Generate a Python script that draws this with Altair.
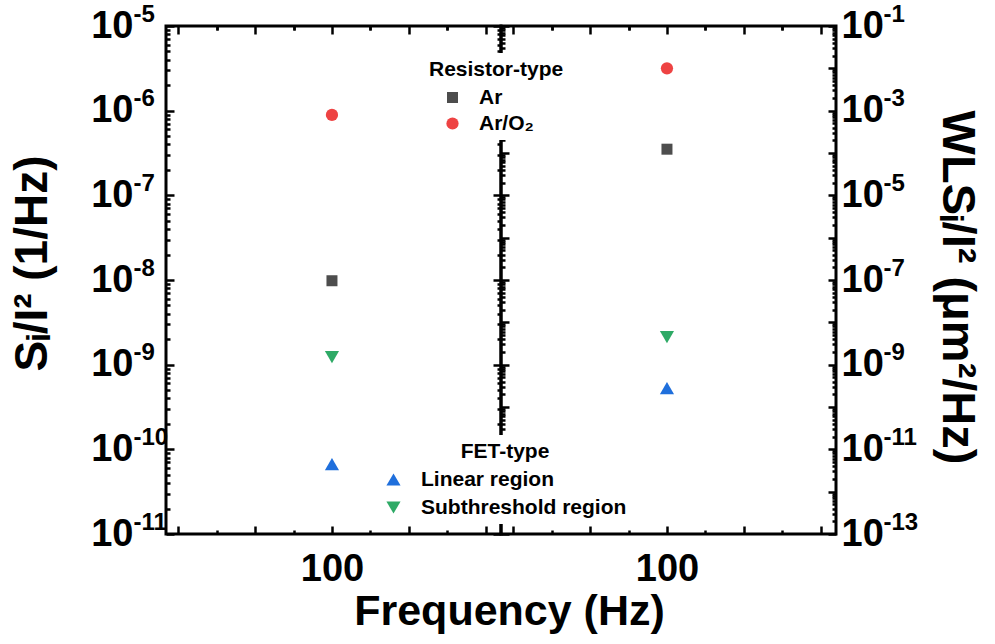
import math
import altair as alt
import pandas as pd

# ---------------- data ----------------
freq = [100, 100]
res_series = ["Ar", "Ar/O₂"]
fet_series = ["Linear region", "Subthreshold region"]
left_res = [9.8e-9, 8.9e-7]          # S_I/I^2 (1/Hz)
left_fet = [6.7e-11, 1.23e-9]
right_res = [1.23e-4, 1.0e-2]        # WL S_I/I^2 (um^2/Hz)
right_fet = [2.8e-10, 4.5e-9]

left_decades = [1e-5, 1e-6, 1e-7, 1e-8, 1e-9, 1e-10, 1e-11]
left_exponents = ["-5", "-6", "-7", "-8", "-9", "-10", "-11"]
right_decades = [1e-1, 1e-3, 1e-5, 1e-7, 1e-9, 1e-11, 1e-13]
right_exponents = ["-1", "-3", "-5", "-7", "-9", "-11", "-13"]
x_major_ticks = [80, 90, 100, 110, 120]
x_minor_ticks = [85, 95, 105, 115]
x_label = "100"

res_colors = ["#4d4d4d", "#ee4343"]
res_shapes = ["square", "circle"]
res_sizes = [121, 150]
fet_colors = ["#1f6fdc", "#2eaa66"]
fet_shapes = ["triangle-up", "triangle-down"]
fet_sizes = [200, 200]

res_df = pd.DataFrame({"Frequency": freq, "series": res_series, "left": left_res, "right": right_res})
fet_df = pd.DataFrame({"Frequency": freq, "series": fet_series, "left": left_fet, "right": right_fet})

W, H = 335, 508
FONT = "Liberation Sans"
BASE_SIZE = 38
EXP_SIZE = 24
BASE_ADV = 42  # advance width of "10" at BASE_SIZE


def decade_ticks(lo, hi):
    return [10.0 ** e for e in range(lo, hi + 1)]


def minor_log_ticks(lo, hi):
    return [m * 10.0 ** e for e in range(lo, hi) for m in range(2, 10)]


def exp_expr(values, labels):
    expr = "''"
    for v, l in zip(values, labels):
        e = round(math.log10(v))
        expr = f"abs(log(datum.value)/LN10 - ({e})) < 0.01 ? '{l}' : " + expr
    return expr


xscale = alt.Scale(domain=[78.4, 122.0], nice=False, zero=False)
yscale_left = alt.Scale(type="log", domain=[1e-11, 1e-5], nice=False)
yscale_right = alt.Scale(type="log", domain=[1e-13, 1e-1], nice=False)

txt = dict(labelFont=FONT, labelFontWeight="bold", labelColor="black", labelOverlap=False,
           labelBound=False, ticks=False, domain=False, grid=False)
ttl = dict(titleFont=FONT, titleFontWeight="bold", titleColor="black")


def tick_axis(orient, values, size):
    return alt.Axis(orient=orient, values=values, tickSize={"expr": str(-size)},
                    labels=False, domain=False, grid=False, title=None,
                    tickColor="black", tickWidth=2.5)


def x_label_axis(with_title):
    kw = dict(orient="bottom", values=[100], labelExpr=f"'{x_label}'", labelFontSize=BASE_SIZE,
              labelPadding=16, labelFlush=False, **txt)
    if with_title:
        kw.update(title="Frequency (Hz)", titleFontSize=43, titleX=343, titlePadding=2, **ttl)
    else:
        kw.update(title=None)
    return alt.Axis(**kw)


def y_axes(side, decades, exps, title, title_y):
    if side == "left":
        base = alt.Axis(orient="left", values=decades, labelExpr="'10'", labelAlign="right",
                        labelFontSize=BASE_SIZE, labelPadding=33, title=title, titleFontSize=46,
                        titleY=title_y, titlePadding=34, **txt, **ttl)
        expo = alt.Axis(orient="left", values=decades, labelExpr=exp_expr(decades, exps),
                        labelAlign="left", labelFontSize=EXP_SIZE, labelPadding=33,
                        labelOffset=-12, title=None, **txt)
    else:
        base = alt.Axis(orient="right", values=decades, labelExpr="'10'", labelAlign="left",
                        labelFontSize=BASE_SIZE, labelPadding=5, title=None, **txt)
        expo = alt.Axis(orient="right", values=decades, labelExpr=exp_expr(decades, exps),
                        labelAlign="left", labelFontSize=EXP_SIZE, labelPadding=5 + BASE_ADV,
                        labelOffset=-12, title=title, titleFontSize=47, titleY=title_y,
                        titlePadding=15, **txt, **ttl)
    return base, expo


def panel(field, yscale, side, decades, exps, title, title_y, major_vals, minor_vals, legends):
    if legends:
        common = dict(orient="none", titleFontSize=21, titleFont=FONT, titleFontWeight="bold",
                      titleColor="black", titlePadding=7,
                      labelFontSize=21, labelFont=FONT, labelFontWeight="bold",
                      labelColor="black", labelLimit=400, fillColor="white", padding=6,
                      symbolStrokeWidth=0)
        res_leg = alt.Legend(legendX=-78, legendY=27, title="Resistor-type", rowPadding=4,
                             titleAnchor="start", symbolOffset=13, labelOffset=16, **common)
        fet_leg = alt.Legend(legendX=-124, legendY=409, title="FET-type", rowPadding=6,
                             titleAnchor="middle", symbolOffset=0, labelOffset=17, **common)
    else:
        res_leg = None
        fet_leg = None

    base_axis, exp_axis = y_axes(side, decades, exps, title, title_y)

    res_layer = alt.Chart(res_df).mark_point(filled=True, opacity=1).encode(
        x=alt.X("Frequency:Q", scale=xscale, axis=x_label_axis(not legends)),
        y=alt.Y(f"{field}:Q", scale=yscale, axis=base_axis),
        color=alt.Color("series:N", scale=alt.Scale(domain=res_series, range=res_colors), legend=res_leg),
        shape=alt.Shape("series:N", scale=alt.Scale(domain=res_series, range=res_shapes), legend=res_leg),
        size=alt.Size("series:N", scale=alt.Scale(domain=res_series, range=res_sizes), legend=res_leg),
    )
    fet_layer = alt.Chart(fet_df).mark_point(filled=True, opacity=1).encode(
        x=alt.X("Frequency:Q", scale=xscale, axis=tick_axis("bottom", x_major_ticks, 8)),
        y=alt.Y(f"{field}:Q", scale=yscale, axis=exp_axis),
        color=alt.Color("series:N", scale=alt.Scale(domain=fet_series, range=fet_colors), legend=fet_leg),
        shape=alt.Shape("series:N", scale=alt.Scale(domain=fet_series, range=fet_shapes), legend=fet_leg),
        size=alt.Size("series:N", scale=alt.Scale(domain=fet_series, range=fet_sizes), legend=fet_leg),
    )
    ghosts = []
    for xo, xv, xs, yo, yv, ys in [
        ("bottom", x_minor_ticks, 4, "left", major_vals, 8),
        ("top", x_major_ticks, 8, "left", minor_vals, 4),
        ("top", x_minor_ticks, 4, "right", major_vals, 8),
        ("top", x_minor_ticks, 4, "right", minor_vals, 4),
    ]:
        ghosts.append(alt.Chart(res_df).mark_point(opacity=0).encode(
            x=alt.X("Frequency:Q", scale=xscale, axis=tick_axis(xo, xv, xs)),
            y=alt.Y(f"{field}:Q", scale=yscale, axis=tick_axis(yo, yv, ys)),
        ))
    return alt.layer(res_layer, fet_layer, *ghosts).resolve_scale(
        color="independent", shape="independent", size="independent"
    ).resolve_axis(x="independent", y="independent").properties(width=W, height=H)


left_panel = panel("left", yscale_left, "left", left_decades, left_exponents, "Sᵢ/I² (1/Hz)", 237,
                   decade_ticks(-11, -5), minor_log_ticks(-11, -5), False)
right_panel = panel("right", yscale_right, "right", right_decades, right_exponents,
                    "WLSᵢ/I² (μm²/Hz)", 261, decade_ticks(-13, -1), minor_log_ticks(-13, -1), True)

chart = alt.hconcat(left_panel, right_panel, spacing=0, bounds="flush").resolve_scale(
    x="independent", y="independent", color="independent", shape="independent", size="independent"
).resolve_axis(x="independent", y="independent").configure(
    background="white", padding={"left": 8, "top": 0, "right": 5, "bottom": 5}
).configure_view(
    stroke="black", strokeWidth=3
)

chart.save("out.html", embed_options={"renderer": "svg", "actions": False})
